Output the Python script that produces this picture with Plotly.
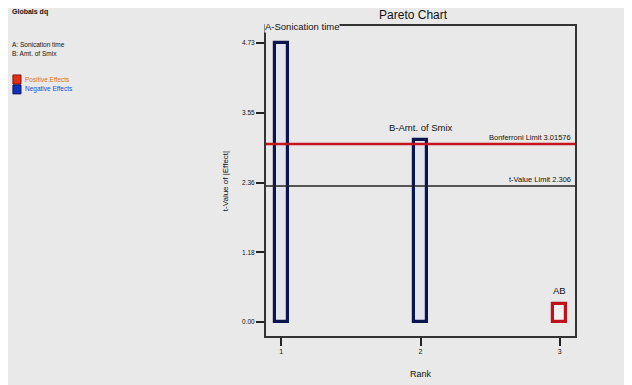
import plotly.graph_objects as go

ranks = [1, 2, 3]
terms = ["A-Sonication time", "B-Amt. of Smix", "AB"]
t_values = [4.73, 3.08, 0.30]
effect_sign = ["neg", "neg", "pos"]
y_ticks = [0.00, 1.18, 2.36, 3.55, 4.73]
y_tick_labels = ["0.00", "1.18", "2.36", "3.55", "4.73"]
bonferroni_limit = 3.01576
t_limit = 2.306

BG = "#e9e9e9"
NAVY = "#0c1450"
RED = "#c0101a"

fill_colors = ["#e2e5ee" if s == "neg" else "#f4f0f0" for s in effect_sign]
line_colors = [NAVY if s == "neg" else RED for s in effect_sign]

fig = go.Figure()
fig.add_trace(go.Bar(
    x=ranks, y=t_values, width=0.095,
    marker=dict(color=fill_colors, line=dict(color=line_colors, width=3.2)),
    showlegend=False, hoverinfo="skip",
))

# limit lines
fig.add_shape(type="line", xref="x domain", yref="y", x0=0, x1=1,
              y0=bonferroni_limit, y1=bonferroni_limit,
              line=dict(color="#c8141e", width=2.5))
fig.add_shape(type="line", xref="x domain", yref="y", x0=0, x1=1,
              y0=t_limit, y1=t_limit,
              line=dict(color="#222222", width=1.5))

small = dict(family="Liberation Sans", size=7.5, color="#111111")
fig.add_annotation(xref="x domain", yref="y", x=0.995, y=bonferroni_limit,
                   text="Bonferroni Limit %.5f" % bonferroni_limit,
                   showarrow=False, xanchor="right", yanchor="bottom", font=small)
fig.add_annotation(xref="x domain", yref="y", x=0.995, y=t_limit,
                   text="t-Value Limit %.3f" % t_limit,
                   showarrow=False, xanchor="right", yanchor="bottom", font=small)

# term labels
lab = dict(family="Liberation Sans", size=9.5, color="#111111")
fig.add_annotation(xref="x domain", yref="paper", x=-0.005, y=1.0,
                   text=terms[0], showarrow=False, xanchor="left", yanchor="middle",
                   font=lab, bgcolor=BG, borderpad=0)
fig.add_annotation(x=ranks[1], y=t_values[1], text=terms[1], showarrow=False,
                   yanchor="bottom", yshift=5, font=lab)
fig.add_annotation(x=ranks[2], y=t_values[2], text=terms[2], showarrow=False,
                   yanchor="bottom", yshift=6, font=lab)

# left-side legend block
leg = dict(family="Liberation Sans", size=6.5, color="#111111")
fig.add_annotation(xref="paper", yref="paper", x=-0.828, y=1.045, text="<b>Globals dq</b>",
                   showarrow=False, xanchor="left", yanchor="middle",
                   font=dict(family="Liberation Sans", size=7, color="#111"))
fig.add_annotation(xref="paper", yref="paper", x=-0.828, y=0.939, text="A: Sonication time",
                   showarrow=False, xanchor="left", yanchor="middle", font=leg)
fig.add_annotation(xref="paper", yref="paper", x=-0.828, y=0.910, text="B: Amt. of Smix",
                   showarrow=False, xanchor="left", yanchor="middle", font=leg)
fig.add_annotation(xref="paper", yref="paper", x=-0.785, y=0.828, text="Positive Effects",
                   showarrow=False, xanchor="left", yanchor="middle",
                   font=dict(family="Liberation Sans", size=6.5, color="#e07010"))
fig.add_annotation(xref="paper", yref="paper", x=-0.785, y=0.796, text="Negative Effects",
                   showarrow=False, xanchor="left", yanchor="middle",
                   font=dict(family="Liberation Sans", size=6.5, color="#1050d0"))
fig.add_shape(type="rect", xref="paper", yref="paper", x0=-0.819, x1=-0.793, y0=0.813, y1=0.842,
              fillcolor="#e03010", line=dict(color="#801010", width=1))
fig.add_shape(type="rect", xref="paper", yref="paper", x0=-0.819, x1=-0.793, y0=0.781, y1=0.810,
              fillcolor="#1030c0", line=dict(color="#101060", width=1))

fig.update_layout(
    width=632, height=385,
    paper_bgcolor=BG, plot_bgcolor=BG,
    margin=dict(l=258, r=65, t=18, b=57),
    title=dict(text="Pareto Chart", x=0.641, xanchor="center", y=0.982, yanchor="middle",
               font=dict(family="Liberation Sans", size=12, color="#111111")),
    bargap=0,
)
fig.update_xaxes(range=[0.89, 3.11], tickvals=ranks, ticktext=[str(r) for r in ranks],
                 ticks="outside", ticklen=8, tickcolor="#222", tickwidth=1.5,
                 showgrid=False, zeroline=False,
                 showline=True, linecolor="#333", linewidth=2, mirror=True,
                 tickfont=dict(family="Liberation Sans", size=7, color="#111"),
                 title=dict(text="Rank", font=dict(family="Liberation Sans", size=9, color="#111"), standoff=16))
fig.update_yaxes(range=[-0.24, 5.02], tickvals=y_ticks, ticktext=y_tick_labels,
                 ticks="outside", ticklen=8, tickcolor="#222", tickwidth=1.5,
                 showgrid=False, zeroline=False,
                 showline=True, linecolor="#333", linewidth=2, mirror=True,
                 tickfont=dict(family="Liberation Sans", size=6.5, color="#111"),
                 title=dict(text="t-Value of |Effect|", font=dict(family="Liberation Sans", size=8, color="#111"), standoff=12))

fig.write_html("out.html")
